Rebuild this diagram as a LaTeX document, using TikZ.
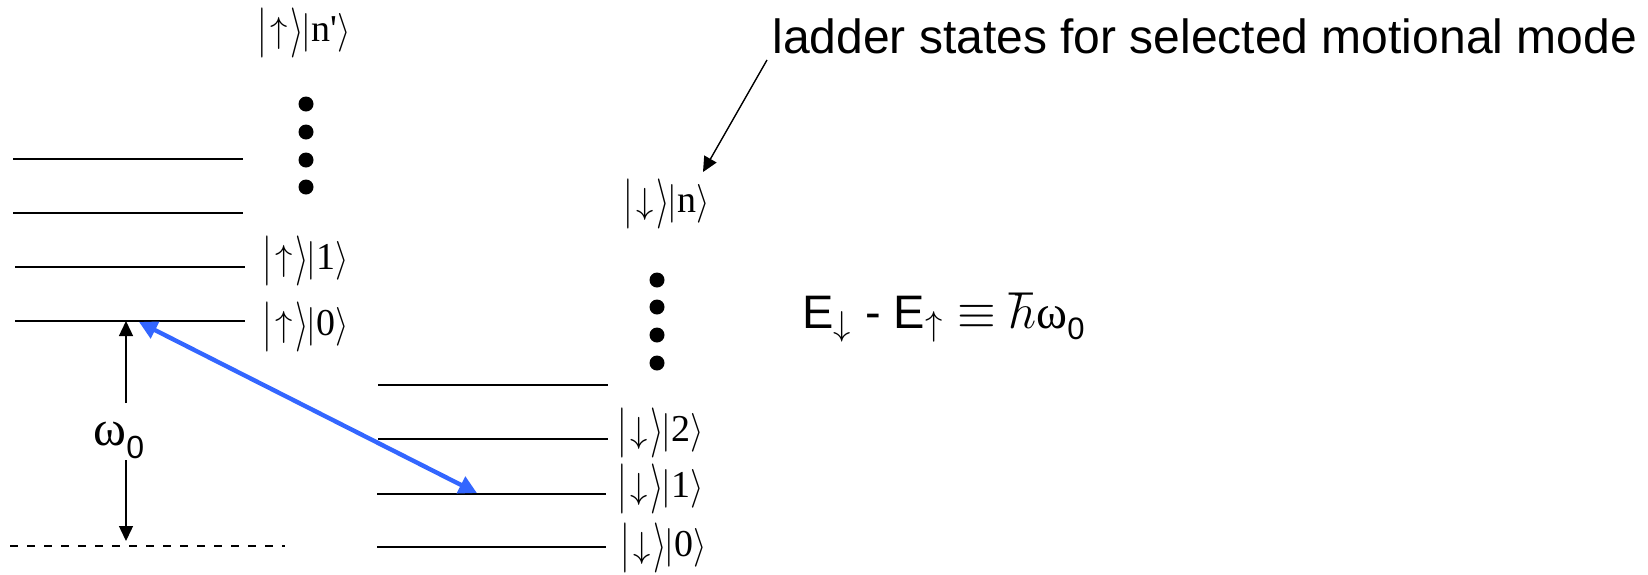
\documentclass[tikz,border=0pt]{standalone}
\usepackage{fontspec}
\setmainfont{Liberation Serif}
\setsansfont{Liberation Sans}
\usepackage{graphicx}
\usetikzlibrary{arrows.meta}
\definecolor{laser}{RGB}{51,102,255}
\newcommand{\vstr}[2]{\vcenter{\hbox{\scalebox{1}[#1]{$#2$}}}}
\newcommand{\sket}[1]{\vstr{1.45}{|}\mkern2mu\vstr{1.05}{#1}\mkern1mu\vstr{1.45}{\rangle}}
\newcommand{\mket}[1]{\mkern-1mu\vstr{1.12}{|}\mkern0mu\textrm{\fontsize{19}{20}\selectfont #1}\mkern0mu\vstr{1.12}{\rangle}}
\newcommand{\lvl}[2]{$\sket{#1}\mket{#2}$}
\begin{document}
\begin{tikzpicture}[x=0.5pt,y=-0.5pt,
  level/.style={line width=1pt},
  ket/.style={anchor=west,inner sep=0pt,font=\fontsize{17}{20}\selectfont},
  bigdot/.style={fill=black,draw=none},
  thinarrow/.style={line width=0.7pt,-{Triangle[width=7pt,length=7.5pt]}},
  laserarrow/.style={line width=2.2pt,laser,{Triangle[width=9pt,length=9pt]}-{Triangle[width=9pt,length=9pt]}}]
\useasboundingbox (0,0) rectangle (1648,574);
% left ladder (up)
\draw[level] (13,159) -- (243,159);
\draw[level] (13,213) -- (243,213);
\draw[level] (15,267) -- (245,267);
\draw[level] (15,321) -- (245,321);
\draw[line width=1pt,dash pattern=on 4pt off 4.5pt] (10,546) -- (285,546);
\foreach \yy in {104,132,160,187} \fill[bigdot] (306,\yy) circle (3.75pt);
\node[ket] (unp) at (257,33) {\lvl{\uparrow}{n\textquotesingle}};
\node[ket] (u1) at (262,261) {\lvl{\uparrow}{1}};
\node[ket] (u0) at (262,327) {\lvl{\uparrow}{0}};
% right ladder (down)
\draw[level] (378,385) -- (608,385);
\draw[level] (378,439) -- (608,439);
\draw[level] (377,494) -- (606,494);
\draw[level] (377,547) -- (606,547);
\foreach \yy in {280,307,335,363} \fill[bigdot] (657,\yy) circle (3.75pt);
\node[ket] (dn) at (623,204) {\lvl{\downarrow}{n}};
\node[ket] (d2) at (617,433) {\lvl{\downarrow}{2}};
\node[ket] (d1) at (617,489) {\lvl{\downarrow}{1}};
\node[ket] (d0) at (620,548) {\lvl{\downarrow}{0}};
% omega_0 gap
\node[anchor=base west,inner sep=0pt] (w0) at (93,445)
  {{\fontsize{25}{28}\selectfont ω}\raisebox{-6.5pt}{\fontsize{16}{18}\selectfont\sffamily 0}};
\coordinate (uptop) at (126,321);
\coordinate (upbot) at (126,403);
\coordinate (dntop) at (126,460);
\coordinate (dnbot) at (126,541);
\draw[thinarrow] (upbot) -- (uptop);
\draw[thinarrow] (dntop) -- (dnbot);
% laser transition
\coordinate (lasA) at (139,322);
\coordinate (lasB) at (477,493);
\draw[laserarrow] (lasA) -- (lasB);
% annotation
\node[anchor=base west,inner sep=0pt,font=\fontsize{24}{28}\selectfont\sffamily] (note) at (772,53)
  {ladder states for selected motional mode};
\coordinate (noteA) at (767,60);
\coordinate (noteB) at (703,172);
\draw[thinarrow] (noteA) -- (noteB);
% energy relation
\node[anchor=base west,inner sep=0pt,font=\fontsize{23.5}{28}\selectfont\sffamily] (eq) at (802,328)
  {E$_\downarrow$ - E$_\uparrow\equiv\hbar${\rmfamily ω}\raisebox{-5.5pt}{\fontsize{15.5}{18}\selectfont 0}};
\end{tikzpicture}
\end{document}
